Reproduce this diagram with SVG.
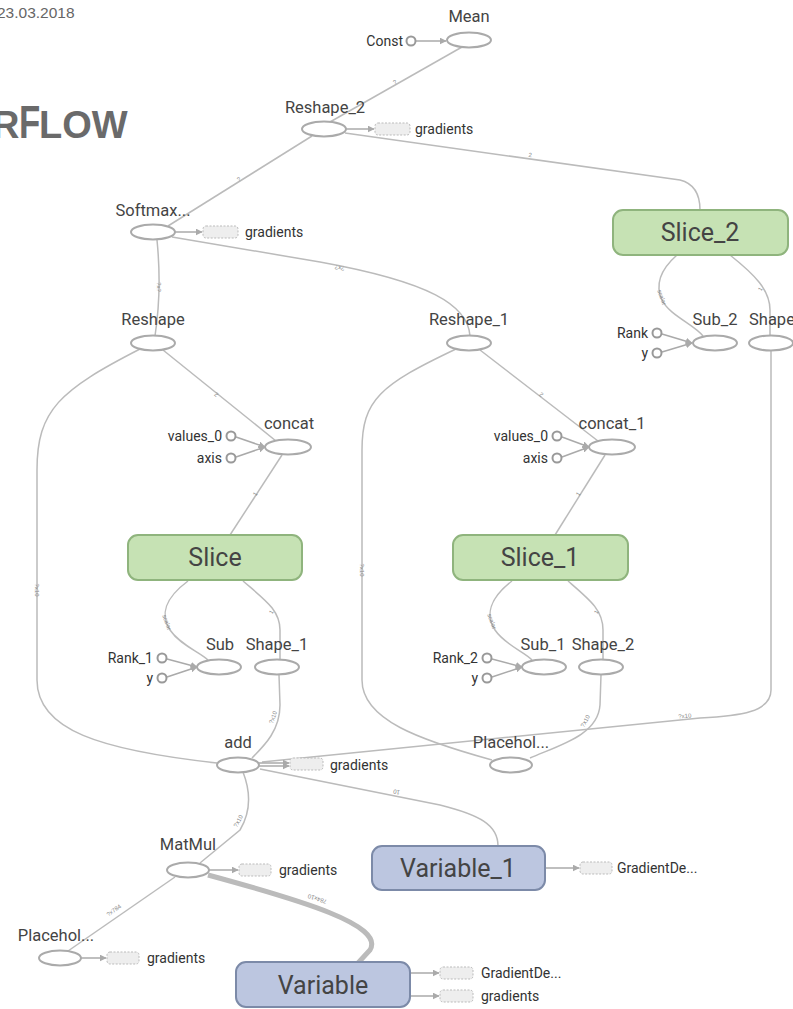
<svg xmlns="http://www.w3.org/2000/svg" width="793" height="1009" viewBox="0 0 793 1009">
<defs>
<style>
.lbl{font-family:Roboto,"Liberation Sans",sans-serif;font-size:16.5px;fill:#444;text-anchor:middle}
.sm{font-family:Roboto,"Liberation Sans",sans-serif;font-size:14px;fill:#333}
.end{text-anchor:end}
.big{font-family:Roboto,"Liberation Sans",sans-serif;font-size:25px;fill:#444;text-anchor:middle}
.op{fill:#fff;stroke:#aaa;stroke-width:2}
.cst{fill:#fff;stroke:#999;stroke-width:2}
.e{fill:none;stroke:#bbb;stroke-width:1.5}
.thick{fill:none;stroke:#bbb;stroke-width:5}
.a{fill:none;stroke:#aaa;stroke-width:1.5;marker-end:url(#arr)}
.grad{fill:#eee;stroke:#bbb;stroke-width:1;stroke-dasharray:2 1.5}
.green{fill:#c6e2b4;stroke:#8fb47d;stroke-width:2}
.blue{fill:#bcc6e0;stroke:#7c8aa8;stroke-width:2}
.el{font-family:"Liberation Sans",sans-serif;font-size:6px;fill:#888;text-anchor:middle}
</style>
<marker id="arr" viewBox="0 0 10 10" refX="9" refY="5" markerWidth="7" markerHeight="7" orient="auto" markerUnits="userSpaceOnUse">
<path d="M0,0 L10,5 L0,10 z" fill="#aaa"/>
</marker>
</defs>
<rect width="793" height="1009" fill="#fff"/>
<text x="-3" y="18" font-family="'Liberation Sans',sans-serif" font-size="15.5" fill="#666">23.03.2018</text>
<g font-family="'Liberation Sans',sans-serif" font-weight="bold" fill="#6a6a6a">
<text x="-8" y="138" font-size="38">R</text>
<text transform="translate(19,138) scale(0.74,1)" font-size="47">F</text>
<text x="39" y="138" font-size="38">LOW</text>
</g>

<g id="connectors">
<path class="e" d="M462,47 L330,122"/>
<path class="e" d="M345,133 L680,180 Q700,185 700,210"/>
<path class="e" d="M312,136 L168,226"/>
<path class="e" d="M157,240 Q162,290 155,336"/>
<path class="e" d="M172,237 L320,262 C430,282 468,305 470,336"/>
<path class="e" d="M163,350 L276,441"/>
<path class="e" d="M140,349 C60,390 37,410 37,470 L37,680 C37,730 100,750 217,763"/>
<path class="e" d="M480,350 L598,441"/>
<path class="e" d="M456,349 C380,385 362,400 362,450 L362,680 C362,720 420,740 492,760"/>
<path class="e" d="M282,455 L230,535"/>
<path class="e" d="M605,455 L555,535"/>
<path class="e" d="M188,581 C165,598 160,615 170,630 S200,652 208,660"/>
<path class="e" d="M243,581 C265,600 280,610 280,630 L280,660"/>
<path class="e" d="M279,675 L280,705 C280,730 265,745 252,758"/>
<path class="e" d="M512,581 C490,598 485,615 495,630 S525,652 532,660"/>
<path class="e" d="M568,581 C590,600 603,610 603,630 L603,660"/>
<path class="e" d="M601,675 L600,705 C598,735 560,745 530,758"/>
<path class="e" d="M677,255 C660,270 655,285 662,300 S695,325 703,336"/>
<path class="e" d="M730,255 C755,275 770,290 770,310 L770,336"/>
<path class="e" d="M771,351 L771,690 C771,712 740,716 700,718 L262,762"/>
<path class="e" d="M243,772 C250,790 252,810 240,830 L200,863"/>
<path class="e" d="M498,846 C498,825 480,815 440,805 L260,769"/>
<path class="thick" d="M208,875 C300,900 385,925 370,950 L358,963"/>
<path class="e" d="M68,951 L175,877"/>
<path class="a" d="M416,41 L446,41"/>
<path class="a" d="M346,129 L374,129"/>
<path class="a" d="M175,232 L202,232"/>
<path class="a" d="M236,437 L265,447"/>
<path class="a" d="M236,457 L265,447"/>
<path class="a" d="M562,437 L589,447"/>
<path class="a" d="M562,457 L589,447"/>
<path class="a" d="M167,659 L197,667"/>
<path class="a" d="M167,677 L197,667"/>
<path class="a" d="M492,659 L522,667"/>
<path class="a" d="M492,677 L522,667"/>
<path class="a" d="M662,334 L692,343"/>
<path class="a" d="M662,352 L692,343"/>
<path class="a" d="M259,763 L289,763"/>
<path class="a" d="M259,766 L289,766"/>
<path class="a" d="M209,870 L238,870"/>
<path class="a" d="M545,868 L579,868"/>
<path class="a" d="M81,958 L106,958"/>
<path class="a" d="M410,973 L439,973"/>
<path class="a" d="M410,996 L439,996"/>
<text class="el" transform="translate(396,84) rotate(-30)">?</text>
<text class="el" transform="translate(530,157) rotate(8)">2</text>
<text class="el" transform="translate(240,181) rotate(-32)">?</text>
<text class="el" transform="translate(157,287) rotate(90)">?x?</text>
<text class="el" transform="translate(340,266) rotate(190)">?x?</text>
<text class="el" transform="translate(215,396) rotate(40)">2</text>
<text class="el" transform="translate(540,396) rotate(40)">2</text>
<text class="el" transform="translate(35,590) rotate(90)">?x10</text>
<text class="el" transform="translate(360,570) rotate(90)">?x10</text>
<text class="el" transform="translate(257,495) rotate(-57)">1</text>
<text class="el" transform="translate(580,495) rotate(-57)">1</text>
<text class="el" transform="translate(165,623) rotate(70)">scalar</text>
<text class="el" transform="translate(490,622) rotate(70)">scalar</text>
<text class="el" transform="translate(660,298) rotate(70)">scalar</text>
<text class="el" transform="translate(273,613) rotate(-60)">1</text>
<text class="el" transform="translate(598,613) rotate(-60)">1</text>
<text class="el" transform="translate(762,290) rotate(-60)">1</text>
<text class="el" transform="translate(275,718) rotate(-70)">?x10</text>
<text class="el" transform="translate(587,722) rotate(-60)">?x10</text>
<text class="el" transform="translate(685,718) rotate(-5)">?x10</text>
<text class="el" transform="translate(240,822) rotate(-60)">?x10</text>
<text class="el" transform="translate(397,790) rotate(192)">10</text>
<text class="el" transform="translate(318,897) rotate(198)">784x10</text>
<text class="el" transform="translate(115,912) rotate(-36)">?x784</text>
</g>

<g id="Mean"><ellipse class="op" cx="469" cy="40" rx="22" ry="7.5"/><text class="lbl" x="469" y="22">Mean</text></g>
<g id="Const"><circle class="cst" cx="411" cy="41" r="4.5"/><text class="sm end" x="403" y="46">Const</text></g>
<g id="Reshape_2"><ellipse class="op" cx="324" cy="129" rx="22" ry="7.5"/><text class="lbl" x="325" y="113">Reshape_2</text></g>
<g id="grad_reshape2"><rect class="grad" x="375" y="123" width="35" height="12" rx="3"/><text class="sm" x="415" y="134">gradients</text></g>
<g id="Softmax"><ellipse class="op" cx="153" cy="232" rx="22" ry="7.5"/><text class="lbl" x="153" y="216">Softmax...</text></g>
<g id="grad_softmax"><rect class="grad" x="203" y="226" width="35" height="12" rx="3"/><text class="sm" x="245" y="237">gradients</text></g>
<g id="Slice_2"><rect class="green" x="613" y="210" width="175" height="45" rx="10"/><text class="big" x="700" y="241">Slice_2</text></g>
<g id="Reshape"><ellipse class="op" cx="153" cy="343" rx="22" ry="7.5"/><text class="lbl" x="153" y="325">Reshape</text></g>
<g id="Reshape_1"><ellipse class="op" cx="469" cy="343" rx="22" ry="7.5"/><text class="lbl" x="469" y="325">Reshape_1</text></g>
<g id="Sub_2"><ellipse class="op" cx="715" cy="343" rx="22" ry="7.5"/><text class="lbl" x="715" y="325">Sub_2</text></g>
<g id="Shape"><ellipse class="op" cx="771" cy="343" rx="22" ry="7.5"/><text class="lbl" x="749" y="325" style="text-anchor:start">Shape</text></g>
<g id="Rank"><circle class="cst" cx="657" cy="333" r="4.5"/><text class="sm end" x="648" y="338">Rank</text></g>
<g id="y_2"><circle class="cst" cx="657" cy="353" r="4.5"/><text class="sm end" x="648" y="358">y</text></g>
<g id="concat"><ellipse class="op" cx="288" cy="447" rx="23" ry="7.5"/><text class="lbl" x="289" y="429">concat</text></g>
<g id="values_0"><circle class="cst" cx="231" cy="436" r="4.5"/><text class="sm end" x="222" y="441">values_0</text></g>
<g id="axis"><circle class="cst" cx="231" cy="458" r="4.5"/><text class="sm end" x="222" y="463">axis</text></g>
<g id="concat_1"><ellipse class="op" cx="612" cy="447" rx="23" ry="7.5"/><text class="lbl" x="612" y="429">concat_1</text></g>
<g id="values_0_1"><circle class="cst" cx="557" cy="436" r="4.5"/><text class="sm end" x="548" y="441">values_0</text></g>
<g id="axis_1"><circle class="cst" cx="557" cy="458" r="4.5"/><text class="sm end" x="548" y="463">axis</text></g>
<g id="Slice"><rect class="green" x="128" y="535" width="174" height="45" rx="10"/><text class="big" x="215" y="566">Slice</text></g>
<g id="Slice_1"><rect class="green" x="453" y="535" width="175" height="45" rx="10"/><text class="big" x="540" y="566">Slice_1</text></g>
<g id="Sub"><ellipse class="op" cx="219" cy="667" rx="22" ry="7.5"/><text class="lbl" x="220" y="650">Sub</text></g>
<g id="Shape_1"><ellipse class="op" cx="277" cy="667" rx="22" ry="7.5"/><text class="lbl" x="277" y="650">Shape_1</text></g>
<g id="Rank_1"><circle class="cst" cx="162" cy="658" r="4.5"/><text class="sm end" x="153" y="663">Rank_1</text></g>
<g id="y"><circle class="cst" cx="162" cy="678" r="4.5"/><text class="sm end" x="153" y="683">y</text></g>
<g id="Sub_1"><ellipse class="op" cx="544" cy="667" rx="22" ry="7.5"/><text class="lbl" x="543" y="650">Sub_1</text></g>
<g id="Shape_2"><ellipse class="op" cx="601" cy="667" rx="22" ry="7.5"/><text class="lbl" x="603" y="650">Shape_2</text></g>
<g id="Rank_2"><circle class="cst" cx="487" cy="658" r="4.5"/><text class="sm end" x="478" y="663">Rank_2</text></g>
<g id="y_1"><circle class="cst" cx="487" cy="678" r="4.5"/><text class="sm end" x="478" y="683">y</text></g>
<g id="add"><ellipse class="op" cx="238" cy="765" rx="21" ry="7.5"/><text class="lbl" x="238" y="748">add</text></g>
<g id="grad_add"><rect class="grad" x="290" y="758" width="33" height="12" rx="3"/><text class="sm" x="330" y="770">gradients</text></g>
<g id="Placeholder_1"><ellipse class="op" cx="511" cy="765" rx="21" ry="7.5"/><text class="lbl" x="511" y="748">Placehol...</text></g>
<g id="MatMul"><ellipse class="op" cx="188" cy="870" rx="21" ry="7.5"/><text class="lbl" x="188" y="850">MatMul</text></g>
<g id="grad_matmul"><rect class="grad" x="239" y="864" width="32" height="12" rx="3"/><text class="sm" x="279" y="875">gradients</text></g>
<g id="Variable_1"><rect class="blue" x="372" y="846" width="173" height="44" rx="10"/><text class="big" x="458" y="877">Variable_1</text></g>
<g id="gd_var1"><rect class="grad" x="580" y="862" width="32" height="12" rx="3"/><text class="sm" x="617" y="873">GradientDe...</text></g>
<g id="Placeholder"><ellipse class="op" cx="60" cy="958" rx="21" ry="7.5"/><text class="lbl" x="56" y="941">Placehol...</text></g>
<g id="grad_placeholder"><rect class="grad" x="107" y="952" width="32" height="12" rx="3"/><text class="sm" x="147" y="963">gradients</text></g>
<g id="Variable"><rect class="blue" x="236" y="962" width="174" height="45" rx="10"/><text class="big" x="323" y="994">Variable</text></g>
<g id="gd_var"><rect class="grad" x="440" y="967" width="33" height="12" rx="3"/><text class="sm" x="481" y="978">GradientDe...</text></g>
<g id="grad_var"><rect class="grad" x="440" y="990" width="33" height="12" rx="3"/><text class="sm" x="481" y="1001">gradients</text></g>
</svg>
